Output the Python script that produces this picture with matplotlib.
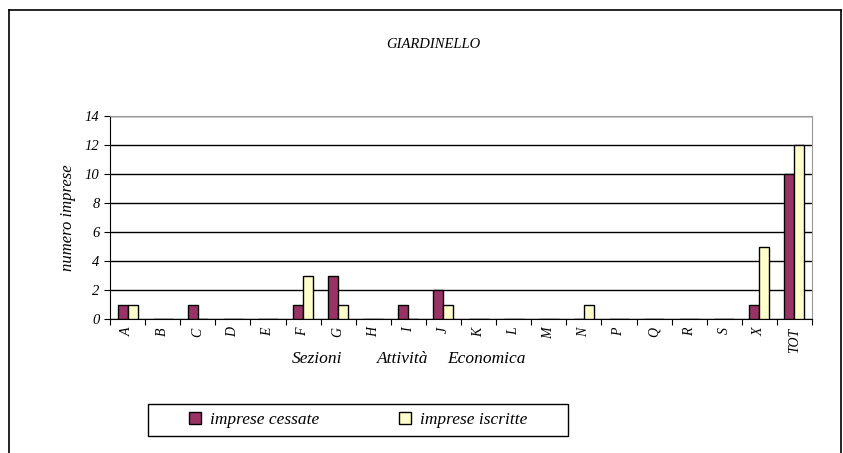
import numpy as np
import matplotlib.pyplot as plt
from matplotlib.lines import Line2D
from matplotlib.patches import Rectangle

categories = ['A', 'B', 'C', 'D', 'E', 'F', 'G', 'H', 'I', 'J', 'K', 'L', 'M',
              'N', 'P', 'Q', 'R', 'S', 'X', 'TOT']
cessate = [1, 0, 1, 0, 0, 1, 3, 0, 1, 2, 0, 0, 0, 0, 0, 0, 0, 0, 1, 10]
iscritte = [1, 0, 0, 0, 0, 3, 1, 0, 0, 1, 0, 0, 0, 1, 0, 0, 0, 0, 5, 12]

plt.rcParams['font.family'] = 'Liberation Serif'
plt.rcParams['font.style'] = 'italic'
it = dict(family='Liberation Serif', style='italic')

fig = plt.figure(figsize=(8.43, 4.53), dpi=100)
W, H = 843, 453
ax = fig.add_axes([110 / W, 1 - 319 / H, 702 / W, 203 / H])

x = np.arange(len(categories))
w = 0.285
ax.bar(x - w / 2, cessate, w, color='#993366', edgecolor='black', linewidth=1.0,
       label='imprese cessate', zorder=3)
ax.bar(x + w / 2, iscritte, w, color='#FFFFCC', edgecolor='black', linewidth=1.0,
       label='imprese iscritte', zorder=3)

ax.set_xlim(-0.5, len(categories) - 0.5)
ax.set_ylim(0, 14)
ax.set_yticks(range(0, 15, 2))
ax.set_yticklabels([str(v) for v in range(0, 15, 2)], fontsize=10.5, **it)
ax.yaxis.grid(True, color='black', linewidth=1.0, zorder=0)
ax.set_axisbelow(True)

ax.set_xticks(np.arange(len(categories) + 1) - 0.5)
ax.set_xticklabels([])
ax.set_xticks(x, minor=True)
ax.set_xticklabels(categories, minor=True, rotation=90, fontsize=10, **it)
ax.tick_params(axis='x', which='minor', length=0, pad=6)
ax.tick_params(axis='x', which='major', length=4, direction='out')
ax.tick_params(axis='y', length=4, direction='out')

for s in ['top', 'right']:
    ax.spines[s].set_color('#999999')
for s in ['left', 'bottom']:
    ax.spines[s].set_color('black')

ax.set_ylabel('numero imprese', fontsize=12, labelpad=6, **it)

# x axis title, spread out as in the original
for word, xp in [('Sezioni', 292), ('Attività', 377), ('Economica', 447)]:
    fig.text(xp / W, 1 - 359 / H, word, fontsize=12.5, ha='left', va='center', **it)

fig.text(433 / W, 1 - 45 / H, 'GIARDINELLO', fontsize=10.5, ha='center',
         va='center', **it)

leg = fig.legend(loc='center', bbox_to_anchor=(358 / W, 1 - 420 / H), ncol=2,
                 prop=dict(size=12.5, **it), frameon=False,
                 handlelength=0.7, handleheight=0.7, handletextpad=0.5,
                 columnspacing=4.6)
fig.add_artist(Rectangle((148 / W, 1 - 436 / H), 420 / W, 32 / H,
                         transform=fig.transFigure, fill=False,
                         edgecolor='black', lw=1.0))

# outer border of the chart area
fig.add_artist(Line2D([9 / W, 841 / W], [1 - 10 / H, 1 - 10 / H], color='black', lw=1.2))
fig.add_artist(Line2D([9 / W, 9 / W], [0, 1 - 10 / H], color='black', lw=1.2))
fig.add_artist(Line2D([841 / W, 841 / W], [0, 1 - 10 / H], color='black', lw=1.2))

fig.savefig('out.png', dpi=100)
